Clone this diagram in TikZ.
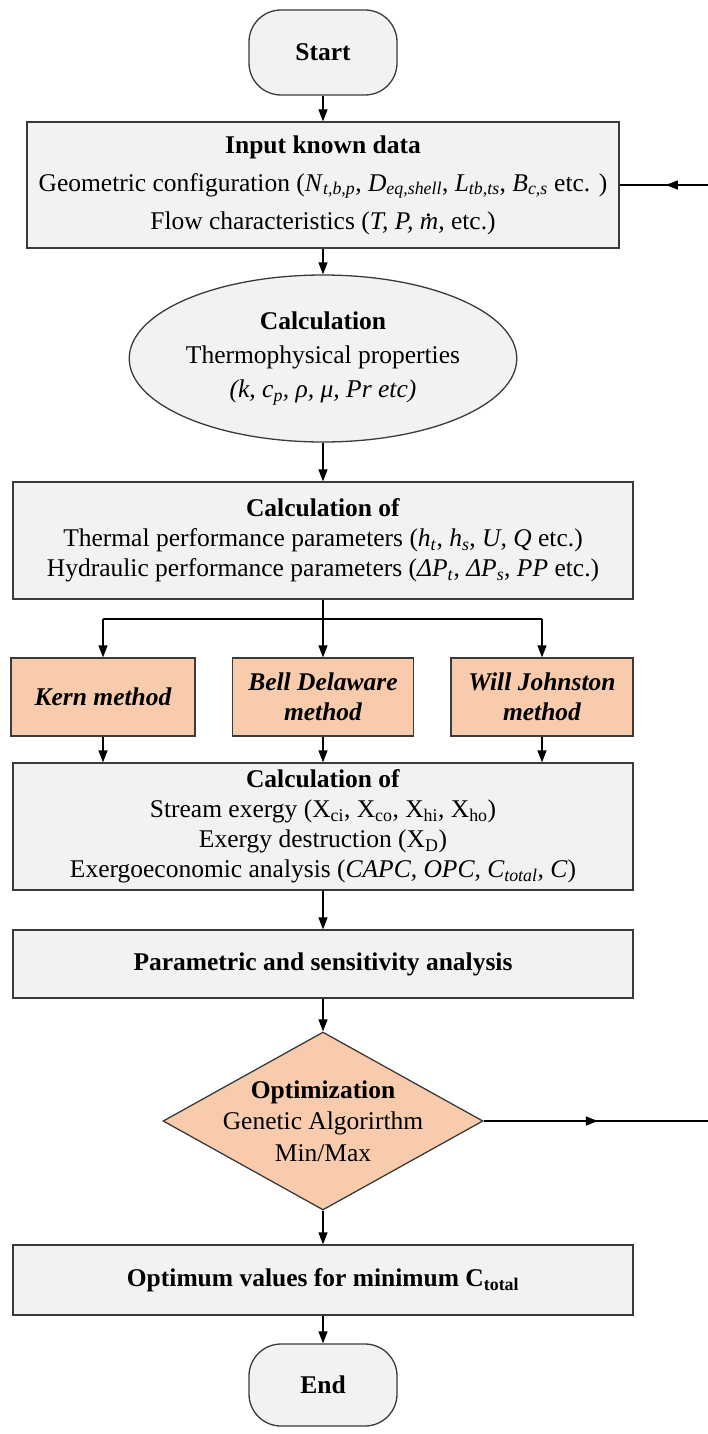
\documentclass[tikz,border=0pt]{standalone}
\usepackage{fontspec}
\setmainfont{Liberation Serif}
\usetikzlibrary{arrows.meta,shapes.geometric,decorations.markings,calc}
\definecolor{boxgray}{HTML}{F2F2F2}
\definecolor{peach}{HTML}{F8CBAD}
\definecolor{edgegray}{HTML}{3A3A3A}
\newcommand\isub[2]{\textit{#1}\textsubscript{\textit{#2}}}
\newcommand\mdotit{\ooalign{\textit{m}\cr\hidewidth\raisebox{0.5em}{\textit{.}}\hidewidth\cr}}
\begin{document}
\begin{tikzpicture}[x=1pt,y=-1pt,
  every node/.style={font=\fontsize{25.5}{30}\selectfont, align=center, inner sep=0pt, text=black},
  procbox/.style={draw=edgegray, fill=boxgray, line width=1.3pt, minimum width=620pt},
  methbox/.style={draw=edgegray, fill=peach, line width=1.3pt, minimum height=78pt, font=\fontsize{25.5}{30}\selectfont\bfseries\itshape},
  term/.style={draw=edgegray, fill=boxgray, line width=1.3pt, rounded corners=32pt, minimum width=148pt, minimum height=85pt, font=\fontsize{25.5}{30}\selectfont\bfseries},
  flow/.style={draw=black, line width=1.3pt},
  arr/.style={flow, -{Triangle[length=12pt,width=9pt]}},
  midarrow/.style={postaction={decorate}, decoration={markings, mark=at position 0.5 with {\arrow{Triangle[length=12pt,width=9pt]}}}}
]
\useasboundingbox (0,0) rectangle (707,1434);

\node[term] (start) at (323,52.5) {Start};

\node[procbox, minimum width=592pt, minimum height=126pt] (input) at (323,185)
  {\textbf{Input known data}\\[8pt]
   Geometric configuration (\isub{N}{t,b,p}, \isub{D}{eq,shell}, \isub{L}{tb,ts}, \isub{B}{c,s} etc. )\\[8pt]
   Flow characteristics (\textit{T, P, }\mdotit\textit{,} etc.)};

\node[ellipse, draw=edgegray, fill=boxgray, line width=1.3pt, minimum width=354pt, minimum height=167pt] (calc1) at (323,358.5)
  {\textbf{Calculation}\\[4pt]
   Thermophysical properties\\[4pt]
   \textit{(k, c\textsubscript{p}, ρ, μ, Pr etc)}};

\node[procbox, minimum height=117pt] (calc2) at (323,540.5)
  {\textbf{Calculation of}\\
   Thermal performance parameters (\isub{h}{t}, \isub{h}{s}, \textit{U, Q} etc.)\\
   Hydraulic performance parameters (\isub{ΔP}{t}, \isub{ΔP}{s}, \textit{PP} etc.)};

\node[methbox, minimum width=184pt] (kern) at (103,697) {Kern method};
\node[methbox, minimum width=181pt] (bell) at (323,697) {Bell Delaware\\method};
\node[methbox, minimum width=182pt] (will) at (542,697) {Will Johnston\\method};

\node[procbox, minimum height=127pt] (calc3) at (323,826.5)
  {\textbf{Calculation of}\\
   Stream exergy (X\textsubscript{ci}, X\textsubscript{co}, X\textsubscript{hi}, X\textsubscript{ho})\\
   Exergy destruction (X\textsubscript{D})\\
   Exergoeconomic analysis (\textit{CAPC, OPC, C\textsubscript{total}, C})};

\node[procbox, minimum height=68pt] (param) at (323,964) {\textbf{Parametric and sensitivity analysis}};

\node[diamond, draw=edgegray, fill=peach, line width=1.3pt, minimum width=320pt, minimum height=178pt] (opt) at (323,1121) {};
\node (opttext) at (opt.center) {\textbf{Optimization}\\[1.5pt] Genetic Algorirthm\\[1.5pt] Min/Max};

\node[procbox, minimum height=70pt] (optimum) at (323,1280) {\textbf{Optimum values for minimum C\textsubscript{total}}};

\node[term, minimum height=82pt] (endn) at (323,1385) {End};

% connectors
\coordinate (br) at (323,619);
\coordinate (brL) at (kern.north |- br);
\coordinate (brR) at (will.north |- br);
\coordinate (fbB) at (712,1121);
\coordinate (fbT) at (712,185);

\draw[arr] (start.south) -- (input.north);
\draw[arr] (input.south) -- (calc1.north);
\draw[arr] (calc1.south) -- (calc2.north);
\draw[flow] (calc2.south) -- (br);
\draw[flow] (brL) -- (brR);
\draw[arr] (brL) -- (kern.north);
\draw[arr] (br) -- (bell.north);
\draw[arr] (brR) -- (will.north);
\draw[arr] (kern.south) -- (kern.south |- calc3.north);
\draw[arr] (bell.south) -- (calc3.north);
\draw[arr] (will.south) -- (will.south |- calc3.north);
\draw[arr] (calc3.south) -- (param.north);
\draw[arr] (param.south) -- (opt.north);
\draw[arr] (opt.south) -- (optimum.north);
\draw[arr] (optimum.south) -- (endn.north);

\draw[flow, midarrow] (opt.east) -- (fbB);
\draw[flow] (fbB) -- (fbT);
\draw[flow, midarrow] (fbT) -- (input.east);
\end{tikzpicture}
\end{document}
